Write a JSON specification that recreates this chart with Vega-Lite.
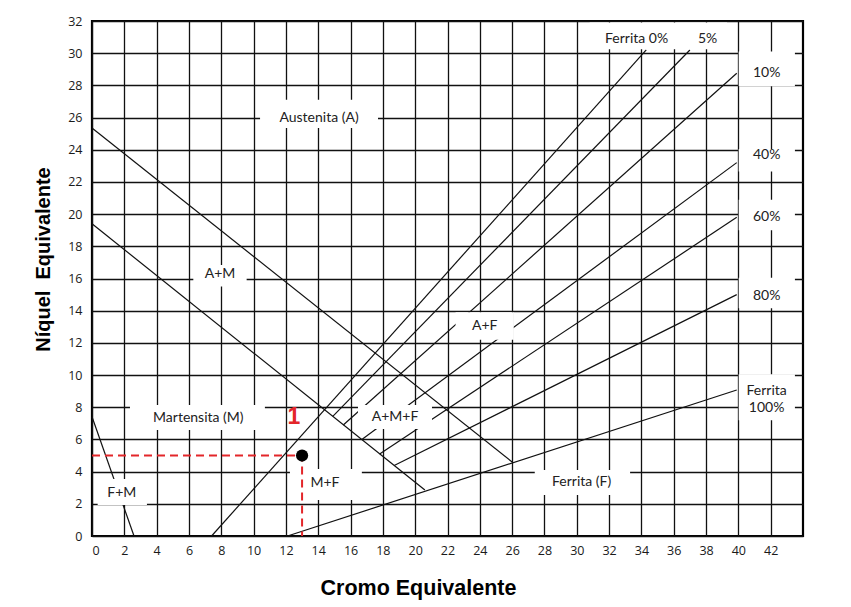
{
  "$schema": "https://vega.github.io/schema/vega-lite/v6.json",
  "width": 711,
  "height": 515,
  "autosize": {"type": "none"},
  "padding": {"left": 92, "top": 21, "right": 48, "bottom": 71},
  "background": "white",
  "config": {
    "view": {"stroke": "black", "strokeWidth": 2.2},
    "axis": {
      "grid": true, "gridColor": "#111", "gridOpacity": 1, "gridWidth": 1.3,
      "ticks": false, "domain": false,
      "labelFont": "Open Sans", "labelFontSize": 12.5, "labelColor": "#1a1a1a",
      "titleFont": "Liberation Sans", "titleFontWeight": "bold", "titleFontSize": 21, "titleColor": "black"
    }
  },
  "datasets": {
    "lines": [
      {"id": "A", "o": 0, "x": 0, "y": 25.35}, {"id": "A", "o": 1, "x": 26, "y": 4.6},
      {"id": "M", "o": 0, "x": 0, "y": 19.4}, {"id": "M", "o": 1, "x": 20.6, "y": 2.86},
      {"id": "F0", "o": 0, "x": 7.4, "y": 0}, {"id": "F0", "o": 1, "x": 34.3, "y": 30.2},
      {"id": "F5", "o": 0, "x": 14.9, "y": 7.43}, {"id": "F5", "o": 1, "x": 37.0, "y": 30.2},
      {"id": "F10", "o": 0, "x": 15.55, "y": 6.9}, {"id": "F10", "o": 1, "x": 39.9, "y": 28.75},
      {"id": "F40", "o": 0, "x": 16.7, "y": 6.0}, {"id": "F40", "o": 1, "x": 39.9, "y": 23.2},
      {"id": "F60", "o": 0, "x": 17.8, "y": 5.1}, {"id": "F60", "o": 1, "x": 39.9, "y": 19.8},
      {"id": "F80", "o": 0, "x": 18.7, "y": 4.38}, {"id": "F80", "o": 1, "x": 39.9, "y": 15.0},
      {"id": "F100", "o": 0, "x": 12.1, "y": 0}, {"id": "F100", "o": 1, "x": 39.9, "y": 9.07},
      {"id": "FM", "o": 0, "x": 0, "y": 7.41}, {"id": "FM", "o": 1, "x": 2.6, "y": 0}
    ],
    "boxes": [
      {"x": 10.4, "x2": 17.7, "y": 25.35, "y2": 27.1},
      {"x": 6.27, "x2": 9.57, "y": 15.5, "y2": 16.84},
      {"x": 22.5, "x2": 26.1, "y": 12.2, "y2": 13.9},
      {"x": 2.35, "x2": 10.7, "y": 6.59, "y2": 8.14},
      {"x": 16.46, "x2": 21.04, "y": 6.65, "y2": 8.14},
      {"x": 12.25, "x2": 16.7, "y": 2.24, "y2": 4.16},
      {"x": 27.4, "x2": 33.3, "y": 2.55, "y2": 4.1},
      {"x": 0.35, "x2": 3.4, "y": 1.93, "y2": 3.54},
      {"x": 30.8, "x2": 39.3, "y": 30.25, "y2": 31.9},
      {"x": 40.02, "x2": 43.5, "y": 27.95, "y2": 30.1},
      {"x": 40.02, "x2": 43.5, "y": 22.65, "y2": 24.05},
      {"x": 40.02, "x2": 43.5, "y": 19.0, "y2": 20.9},
      {"x": 40.02, "x2": 43.5, "y": 14.15, "y2": 16.05},
      {"x": 40.02, "x2": 43.5, "y": 7.2, "y2": 10.05}
    ],
    "labels": [
      {"x": 14.05, "y": 26.0, "t": "Austenita (A)"},
      {"x": 7.92, "y": 16.3, "t": "A+M"},
      {"x": 24.3, "y": 13.05, "t": "A+F"},
      {"x": 6.58, "y": 7.31, "t": "Martensita (M)"},
      {"x": 18.75, "y": 7.41, "t": "A+M+F"},
      {"x": 14.42, "y": 3.31, "t": "M+F"},
      {"x": 30.3, "y": 3.37, "t": "Ferrita (F)"},
      {"x": 1.84, "y": 2.69, "t": "F+M"},
      {"x": 33.7, "y": 30.87, "t": "Ferrita  0%"},
      {"x": 38.1, "y": 30.87, "t": "5%"},
      {"x": 41.75, "y": 28.8, "t": "10%"},
      {"x": 41.75, "y": 23.68, "t": "40%"},
      {"x": 41.75, "y": 19.8, "t": "60%"},
      {"x": 41.75, "y": 14.9, "t": "80%"},
      {"x": 41.75, "y": 9.03, "t": "Ferrita"},
      {"x": 41.75, "y": 7.94, "t": "100%"}
    ],
    "ref": [
      {"o": 0, "x": 0, "y": 5.0}, {"o": 1, "x": 13.0, "y": 5.0}, {"o": 2, "x": 13.0, "y": 0}
    ],
    "pt": [{"x": 13.0, "y": 5.0}],
    "num": [{"x": 12.5, "y": 7.4, "t": "1"}]
  },
  "encoding": {
    "x": {"type": "quantitative", "field": "x",
      "scale": {"domain": [0, 44], "nice": false, "zero": false},
      "axis": {"values": [0,2,4,6,8,10,12,14,16,18,20,22,24,26,28,30,32,34,36,38,40,42], "labelPadding": 8,
        "title": "Cromo Equivalente", "titlePadding": 21, "titleX": 326, "titleFontSize": 21.5}},
    "y": {"type": "quantitative", "field": "y",
      "scale": {"domain": [0, 32], "nice": false, "zero": false},
      "axis": {"values": [0,2,4,6,8,10,12,14,16,18,20,22,24,26,28,30,32], "labelPadding": 10,
        "title": "Níquel\u00a0\u00a0Equivalente", "titlePadding": 14, "titleY": 238, "titleFontSize": 20}}
  },
  "layer": [
    {"data": {"name": "lines"}, "mark": {"type": "line", "color": "#111", "strokeWidth": 1.2},
      "encoding": {"detail": {"field": "id"}, "order": {"field": "o"}}},
    {"data": {"name": "boxes"}, "mark": {"type": "rect", "color": "white", "opacity": 1},
      "encoding": {"x2": {"field": "x2"}, "y2": {"field": "y2"}}},
    {"data": {"name": "ref"}, "mark": {"type": "line", "color": "#e3262a", "strokeWidth": 2, "strokeDash": [8, 5]},
      "encoding": {"order": {"field": "o"}}},
    {"data": {"name": "pt"}, "mark": {"type": "circle", "color": "black", "opacity": 1, "size": 150}},
    {"data": {"name": "labels"}, "mark": {"type": "text", "font": "Lato", "fontSize": 14, "color": "#222", "align": "center", "baseline": "middle"},
      "encoding": {"text": {"field": "t"}}},
    {"data": {"name": "num"}, "mark": {"type": "text", "font": "Liberation Sans", "fontWeight": "bold", "fontSize": 23, "color": "#e3262a", "align": "center", "baseline": "middle"},
      "encoding": {"text": {"field": "t"}}}
  ]
}
